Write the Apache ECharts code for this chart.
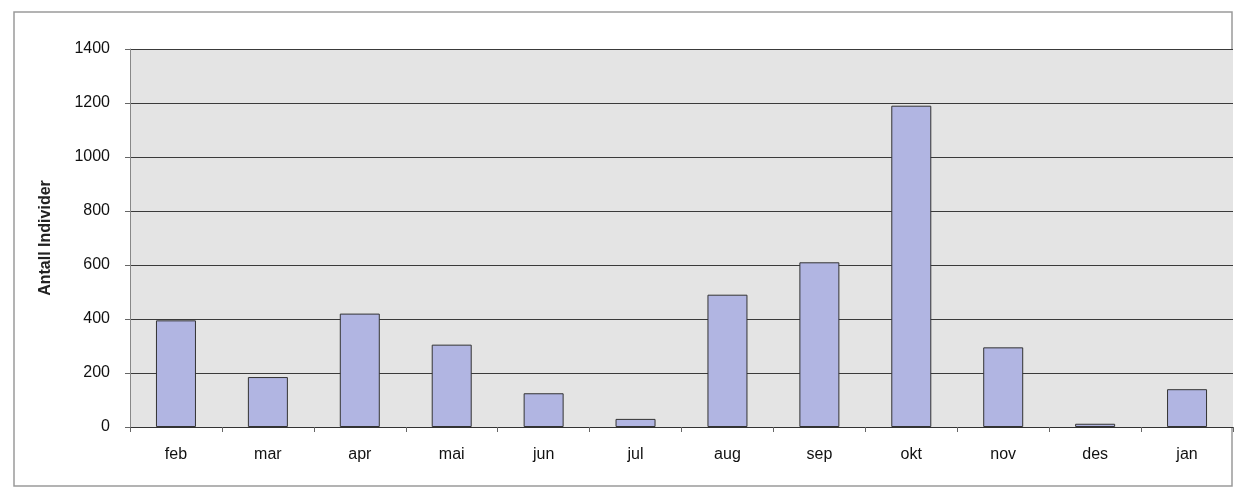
<!DOCTYPE html>
<html>
<head>
<meta charset="utf-8">
<script src="https://cdn.jsdelivr.net/npm/echarts@6/dist/echarts.min.js"></script>
<style>
html,body{margin:0;padding:0;background:#fff;}
#chart{width:1237px;height:491px;}
</style>
</head>
<body>
<div id="chart"></div>
<script>
const categories = ['feb','mar','apr','mai','jun','jul','aug','sep','okt','nov','des','jan'];
const antall = [395, 185, 420, 305, 125, 30, 490, 610, 1190, 295, 12, 140];
const yTicks = [0, 200, 400, 600, 800, 1000, 1200, 1400];
const yAxisTitle = 'Antall Individer';

const chart = echarts.init(document.getElementById('chart'));
chart.setOption({
  backgroundColor: '#ffffff',
  animation: false,
  graphic: [{
    type: 'rect',
    shape: { x: 14, y: 12, width: 1218, height: 474 },
    style: { fill: 'none', stroke: '#9a9a9a', lineWidth: 1.5 },
    z: -10
  }],
  grid: {
    left: 130, right: 4, top: 49, bottom: 64,
    show: true, backgroundColor: '#e4e4e4', borderWidth: 0
  },
  xAxis: {
    type: 'category',
    data: categories,
    boundaryGap: true,
    axisLine: { show: true, lineStyle: { color: '#333', width: 1.2 } },
    axisTick: { show: true, alignWithLabel: false, length: 5, lineStyle: { color: '#666' } },
    axisLabel: { color: '#111', fontFamily: 'Liberation Sans', fontSize: 16, margin: 20 },
    splitLine: { show: false }
  },
  yAxis: {
    type: 'value',
    min: yTicks[0], max: yTicks[yTicks.length - 1], interval: 200,
    name: yAxisTitle,
    nameLocation: 'middle',
    nameGap: 76,
    nameTextStyle: { color: '#222', fontFamily: 'Liberation Sans', fontSize: 16, fontWeight: 'bold' },
    axisLine: { show: true, lineStyle: { color: '#888', width: 1 } },
    axisTick: { show: true, length: 5, lineStyle: { color: '#666' } },
    axisLabel: { color: '#111', fontFamily: 'Liberation Sans', fontSize: 16, margin: 20,
      formatter: function (v) { return String(v); } },
    splitLine: { show: true, lineStyle: { color: '#3a3a3a', width: 1.2 } }
  },
  series: [{
    type: 'bar',
    data: antall,
    barWidth: 40,
    itemStyle: { color: '#b1b5e2', borderColor: '#333', borderWidth: 1 }
  }]
});
</script>
</body>
</html>
